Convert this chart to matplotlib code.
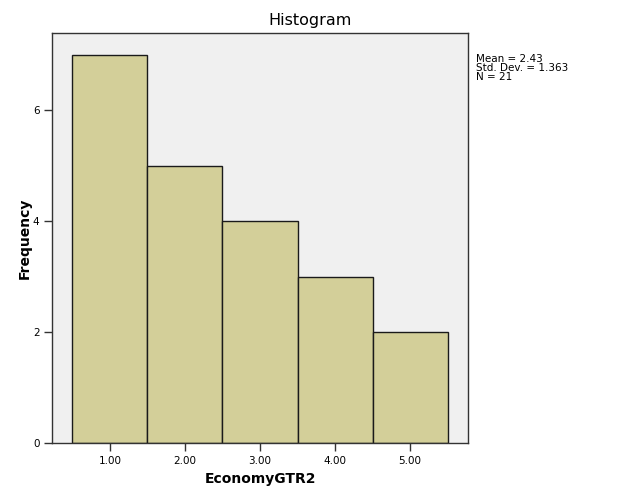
import matplotlib
matplotlib.use("Agg")
from matplotlib import pyplot as plt

# bin centres and counts
bin_centers = [1.0, 2.0, 3.0, 4.0, 5.0]
counts = [7, 5, 4, 3, 2]
xtick_labels = ["1.00", "2.00", "3.00", "4.00", "5.00"]
yticks = [0, 2, 4, 6]
stats_lines = ["Mean = 2.43", "Std. Dev. = 1.363", "N = 21"]

fig = plt.figure(figsize=(6.26, 5.01), dpi=100)
fig.patch.set_facecolor("white")
ax = fig.add_axes([52 / 626, 58 / 501, 416 / 626, 410 / 501])
ax.set_facecolor("#F0F0F0")

ax.bar(bin_centers, counts, width=1.0, color="#D3CF99", edgecolor="#1a1a1a", linewidth=1.0)

ax.set_xlim(0.227, 5.773)
ax.set_ylim(0, 7.39)
ax.set_xticks(bin_centers)
ax.set_xticklabels(xtick_labels, fontsize=7.5)
ax.set_yticks(yticks)
ax.set_yticklabels([str(v) for v in yticks], fontsize=7.5)
ax.tick_params(direction="out", length=6, width=1, color="#333333", pad=3)
for s in ax.spines.values():
    s.set_color("#333333")
    s.set_linewidth(1)

ax.set_xlabel("EconomyGTR2", fontsize=10, fontweight="bold", labelpad=5)
ax.set_ylabel("Frequency", fontsize=10, fontweight="bold", labelpad=1)
fig.text(0.496, 1 - 21 / 501, "Histogram", fontsize=11.5, ha="center", va="center")

fig.text(476 / 626, 1 - 54 / 501, "\n".join(stats_lines), fontsize=7.5, ha="left", va="top", linespacing=0.9)

fig.savefig("out.png", dpi=100)
